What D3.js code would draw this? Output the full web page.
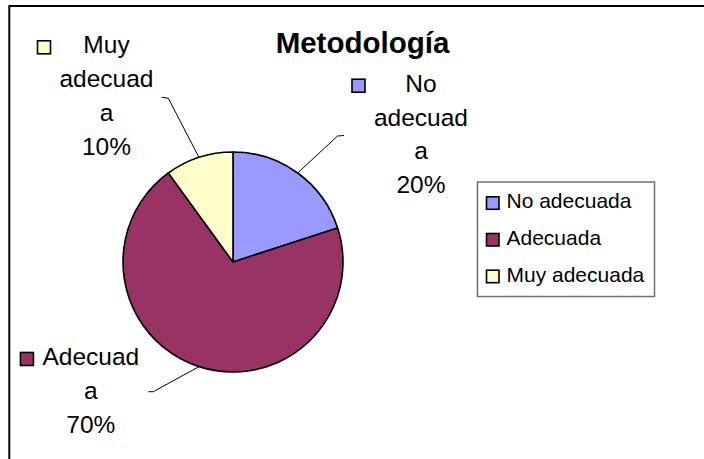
<!DOCTYPE html>
<html>
<head>
<meta charset="utf-8">
<script src="https://cdn.jsdelivr.net/npm/d3@7/dist/d3.min.js"></script>
<style>
  html, body { margin: 0; padding: 0; background: #fff; }
  svg { display: block; }
  text { font-family: "Liberation Sans", Arial, sans-serif; fill: #000; }
</style>
</head>
<body>
<svg id="chart" width="704" height="459"></svg>
<script>
// ---- data ----
const title = "Metodología";
const categories = ["No adecuada", "Adecuada", "Muy adecuada"];
const values = [20, 70, 10];
const colors = ["#9999FF", "#993366", "#FFFFCC"];
// data label text as wrapped in the original
const labelWrap = [["No", "adecuad", "a"], ["Adecuad", "a"], ["Muy", "adecuad", "a"]];

// ---- layout ----
const W = 704, H = 459;
const cx = 233, cy = 262, R = 110;
const labelLayout = [
  { x: 421, y: 91.7, elbow: [337.5, 136], end: [344, 135.5] },
  { x: 90.8, y: 365, elbow: [153.3, 391.7], end: [148.3, 391.7] },
  { x: 106.5, y: 53.3, elbow: [168.3, 98.3], end: [161.7, 97.3] }
];
const lineH = 33.8;

const svg = d3.select("#chart");
svg.append("rect").attr("width", W).attr("height", H).attr("fill", "#fff");

// chart area border (right & bottom edges fall outside the view)
svg.append("rect")
  .attr("x", 9.3).attr("y", 6)
  .attr("width", 740).attr("height", 500)
  .attr("fill", "none").attr("stroke", "#000").attr("stroke-width", 2);

// title
svg.append("text")
  .attr("x", 362.5).attr("y", 53.3)
  .attr("text-anchor", "middle")
  .attr("font-size", 29.5).attr("font-weight", "bold")
  .text(title);

// pie
const pie = d3.pie().sort(null).value(d => d.value);
const arcs = pie(categories.map((c, i) => ({ cat: c, value: values[i], i })));
const arc = d3.arc().innerRadius(0).outerRadius(R);
const total = d3.sum(values);

const g = svg.append("g").attr("transform", `translate(${cx},${cy})`);
g.selectAll("path.slice")
  .data(arcs)
  .join("path")
  .attr("class", "slice")
  .attr("d", arc)
  .attr("fill", d => colors[d.data.i])
  .attr("stroke", "#000")
  .attr("stroke-width", 1.6)
  .attr("stroke-linejoin", "round");

// leader lines
arcs.forEach((a, i) => {
  const mid = (a.startAngle + a.endAngle) / 2;
  const sx = cx + R * Math.sin(mid), sy = cy - R * Math.cos(mid);
  const L = labelLayout[i];
  svg.append("path")
    .attr("d", d3.line()([[sx, sy], L.elbow, L.end]))
    .attr("fill", "none").attr("stroke", "#000").attr("stroke-width", 1);
});

// data labels
arcs.forEach((a, i) => {
  const L = labelLayout[i];
  const pct = d3.format(".0%")(a.data.value / total);
  const lines = labelWrap[i].concat([pct]);
  const tg = svg.append("g");
  let maxW = 0;
  lines.forEach((ln, k) => {
    const t = tg.append("text")
      .attr("x", L.x).attr("y", L.y + k * lineH)
      .attr("text-anchor", "middle")
      .attr("font-size", 24.5)
      .text(ln);
    maxW = Math.max(maxW, t.node().getComputedTextLength());
  });
  tg.append("rect")
    .attr("x", L.x - maxW / 2 - 22).attr("y", L.y - 12.5)
    .attr("width", 13).attr("height", 13)
    .attr("fill", colors[a.data.i])
    .attr("stroke", "#000").attr("stroke-width", 1.6);
});

// legend
const lg = svg.append("g");
lg.append("rect")
  .attr("x", 477.5).attr("y", 182)
  .attr("width", 177).attr("height", 114.5)
  .attr("fill", "#fff").attr("stroke", "#707070").attr("stroke-width", 1.5);
const legendY = d3.scalePoint().domain(categories).range([208.3, 281.7]);
categories.forEach((c, i) => {
  const y = legendY(c);
  lg.append("rect")
    .attr("x", 486.5).attr("y", y - 11.5)
    .attr("width", 12.5).attr("height", 12.5)
    .attr("fill", colors[i]).attr("stroke", "#000").attr("stroke-width", 1.6);
  lg.append("text")
    .attr("x", 506.5).attr("y", y)
    .attr("font-size", 21)
    .text(c);
});
</script>
</body>
</html>
